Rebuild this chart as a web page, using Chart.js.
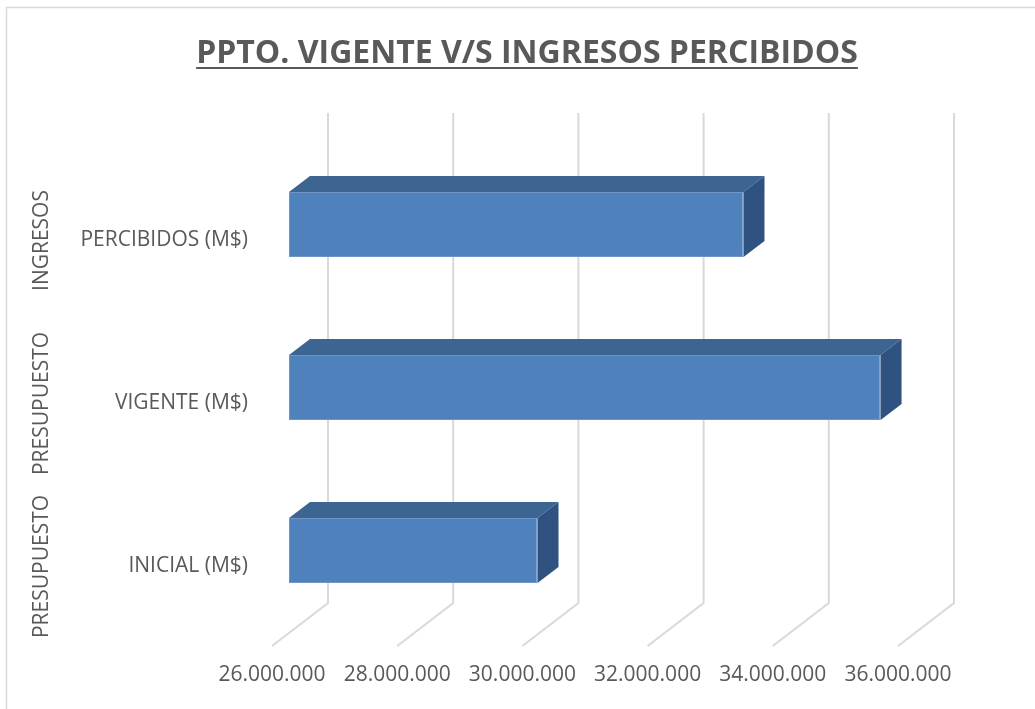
<!DOCTYPE html>
<html>
<head>
<meta charset="utf-8">
<script src="https://cdn.jsdelivr.net/npm/chart.js@4/dist/chart.umd.min.js"></script>
<style>
  html, body { margin: 0; padding: 0; background: #fff; }
  #wrap { width: 1035px; height: 709px; position: relative; }
</style>
</head>
<body>
<div id="wrap"><canvas id="budgetChart"></canvas></div>
<script>
// datos del gráfico
const categorias = ['INICIAL (M$)', 'VIGENTE (M$)', 'PERCIBIDOS (M$)'];
const grupos     = ['PRESUPUESTO', 'PRESUPUESTO', 'INGRESOS'];
const montos     = [29970000, 35450000, 33260000];
const ejeMin  = 26000000;
const ejeMax  = 36000000;
const ejePaso = 2000000;
const titulo  = 'PPTO. VIGENTE V/S INGRESOS PERCIBIDOS';

const GRIS_TEXTO = '#595959';
const FUENTE = '"Open Sans", sans-serif';

// profundidad 3D
const BAR_DX = 21, BAR_DY = -16;

function formatoMiles(v) {
    return String(Math.round(v)).replace(/\B(?=(\d{3})+(?!\d))/g, '.');
}

const efecto3D = {
    id: 'efecto3D',
    beforeDraw(chart) {
        const ctx = chart.ctx;
        ctx.save();
        ctx.fillStyle = '#ffffff';
        ctx.fillRect(0, 0, chart.width, chart.height);
        // borde del gráfico
        ctx.strokeStyle = '#d9d9d9';
        ctx.lineWidth = 1.5;
        ctx.strokeRect(6.5, 7.5, chart.width + 20, chart.height + 20);

        // título subrayado
        ctx.font = 'bold 32px ' + FUENTE;
        ctx.fillStyle = GRIS_TEXTO;
        ctx.textAlign = 'center';
        ctx.textBaseline = 'alphabetic';
        const tx = 527, ty = 63;
        ctx.fillText(titulo, tx, ty);
        const w = ctx.measureText(titulo).width;
        ctx.fillRect(tx - w / 2, ty + 4, w, 2);
        ctx.restore();
    },
    beforeDatasetsDraw(chart) {
        const ctx = chart.ctx;
        const xs = chart.scales.x;
        ctx.save();
        ctx.strokeStyle = '#d9d9d9';
        ctx.lineWidth = 2;
        xs.ticks.forEach(t => {
            const x = xs.getPixelForValue(t.value);
            ctx.beginPath();
            ctx.moveTo(x + 39, 113);
            ctx.lineTo(x + 39, 603);
            ctx.lineTo(x - 17, 646);
            ctx.stroke();
        });
        ctx.restore();
    },
    afterDatasetsDraw(chart) {
        const ctx = chart.ctx;
        const meta = chart.getDatasetMeta(0);
        ctx.save();
        meta.data.forEach(bar => {
            const p = bar.getProps(['x', 'y', 'base', 'height'], true);
            const base = Math.max(p.base, chart.chartArea.left);
            const top = p.y - p.height / 2, bot = p.y + p.height / 2;
            // cara superior
            ctx.fillStyle = '#3c6592';
            ctx.beginPath();
            ctx.moveTo(base, top);
            ctx.lineTo(p.x, top);
            ctx.lineTo(p.x + BAR_DX, top + BAR_DY);
            ctx.lineTo(base + BAR_DX, top + BAR_DY);
            ctx.closePath();
            ctx.fill();
            // cara lateral
            ctx.fillStyle = '#2f5280';
            ctx.beginPath();
            ctx.moveTo(p.x, top);
            ctx.lineTo(p.x + BAR_DX, top + BAR_DY);
            ctx.lineTo(p.x + BAR_DX, bot + BAR_DY);
            ctx.lineTo(p.x, bot);
            ctx.closePath();
            ctx.fill();
        });

        // etiquetas de grupo (rotadas)
        const ys = chart.scales.y;
        ctx.font = '21px ' + FUENTE;
        ctx.fillStyle = GRIS_TEXTO;
        ctx.textAlign = 'center';
        ctx.textBaseline = 'middle';
        grupos.forEach((g, i) => {
            const y = ys.getPixelForValue(i) + 16;
            ctx.save();
            ctx.translate(42, y);
            ctx.rotate(-Math.PI / 2);
            ctx.fillText(g, 0, 0);
            ctx.restore();
        });
        ctx.restore();
    }
};

const ctx = document.getElementById('budgetChart').getContext('2d');

new Chart(ctx, {
    type: 'bar',
    data: {
        labels: categorias,
        datasets: [{
            data: montos,
            base: ejeMin,
            backgroundColor: '#4f81bd',
            borderColor: '#6f95c8',
            borderWidth: 1,
            borderSkipped: false,
            barPercentage: 0.4,
            categoryPercentage: 1
        }]
    },
    options: {
        indexAxis: 'y',
        responsive: true,
        maintainAspectRatio: false,
        animation: false,
        devicePixelRatio: 1,
        layout: { padding: { left: 0, right: 120, top: 143, bottom: 0 } },
        scales: {
            x: {
                min: ejeMin,
                max: ejeMax,
                grid: { display: false, drawTicks: false },
                border: { display: false },
                afterFit(scale) { scale.height = 77; },
                ticks: {
                    stepSize: ejePaso,
                    labelOffset: -17,
                    padding: 30,
                    color: GRIS_TEXTO,
                    font: { family: FUENTE, size: 21 },
                    maxRotation: 0,
                    callback: v => formatoMiles(v)
                }
            },
            y: {
                reverse: true,
                grid: { display: false, drawTicks: false },
                border: { display: false },
                afterFit(scale) { scale.width = 289; },
                ticks: {
                    labelOffset: 16,
                    padding: 41,
                    color: GRIS_TEXTO,
                    font: { family: FUENTE, size: 21 }
                }
            }
        },
        plugins: {
            legend: { display: false },
            tooltip: { enabled: false },
            title: { display: false }
        }
    },
    plugins: [efecto3D]
});
</script>
</body>
</html>
